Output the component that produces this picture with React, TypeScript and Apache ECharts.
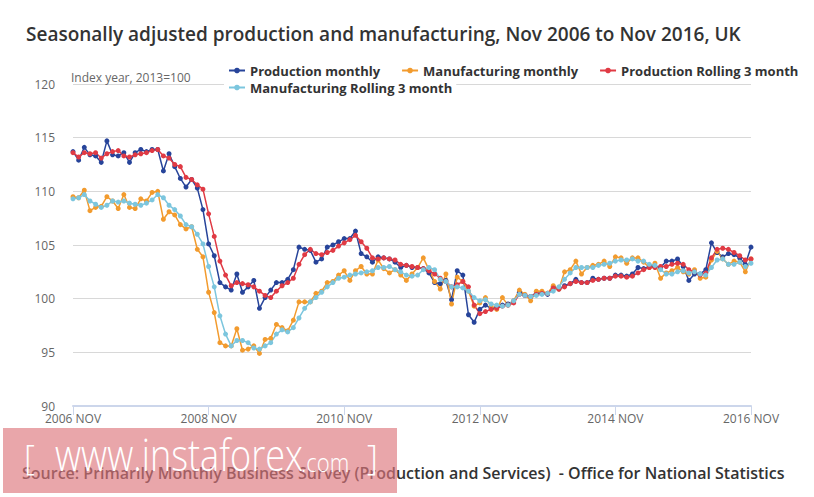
import React, { useEffect, useRef } from "react";
import * as echarts from "echarts";

const tickLabels = ["2006 NOV", "2008 NOV", "2010 NOV", "2012 NOV", "2014 NOV", "2016 NOV"];
const monthNames = ["JAN", "FEB", "MAR", "APR", "MAY", "JUN", "JUL", "AUG", "SEP", "OCT", "NOV", "DEC"];
const startYear = 2006;
const startMonthIndex = 10; // NOV
const monthCount = 121;

const productionMonthly = [
  113.7, 112.9, 114.1, 113.4, 113.3, 112.7, 114.7, 113.4, 113.3, 113.6, 112.7, 113.6,
  113.9, 113.7, 113.9, 113.9, 111.9, 113.5, 112.3, 111.2, 110.4, 111.1, 110.3, 108.3,
  105.1, 104.0, 101.5, 101.1, 100.8, 102.3, 100.6, 101.1, 101.7, 99.1, 100.1, 100.8,
  101.5, 101.5, 101.8, 102.7, 104.8, 104.6, 104.5, 103.4, 103.7, 104.8, 105.0, 105.3,
  105.6, 105.6, 106.3, 104.2, 103.9, 103.4, 103.9, 103.8, 103.7, 103.4, 102.9, 103.1,
  102.9, 102.9, 102.8, 102.4, 101.5, 101.4, 101.7, 99.9, 102.6, 102.2, 98.5, 97.8,
  99.0, 99.4, 99.1, 99.2, 99.4, 99.5, 99.8, 100.6, 100.3, 100.2, 100.5, 100.5,
  100.4, 101.1, 100.9, 101.2, 101.4, 101.8, 101.5, 101.5, 101.9, 101.8, 101.9, 101.9,
  102.2, 102.2, 102.1, 102.3, 102.9, 102.8, 103.0, 103.0, 102.9, 103.5, 103.5, 103.7,
  103.0, 101.7, 102.3, 102.3, 102.7, 105.2, 104.3, 103.9, 104.2, 104.1, 103.8, 103.2,
  104.8,
];

const manufacturingMonthly = [
  109.5, 109.4, 110.1, 108.2, 108.5, 108.6, 109.5, 109.1, 108.4, 109.7, 108.5, 108.4,
  109.3, 109.1, 109.9, 110.0, 107.4, 108.1, 107.8, 106.9, 106.5, 106.7, 104.6, 103.9,
  100.6, 98.7, 95.9, 95.6, 95.6, 97.2, 95.2, 95.3, 95.6, 94.9, 96.2, 96.3,
  97.6, 97.3, 97.0, 98.0, 99.7, 99.7, 99.7, 100.5, 100.7, 101.5, 101.6, 102.2,
  102.6, 101.7, 102.6, 103.0, 102.3, 102.3, 103.6, 102.8, 102.4, 102.7, 102.2, 101.7,
  102.3, 102.9, 103.8, 102.7, 101.6, 100.9, 102.3, 99.5, 102.0, 101.6, 100.7, 99.3,
  99.6, 100.1, 99.3, 99.0, 100.1, 99.4, 99.8, 100.8, 100.4, 99.8, 100.7, 100.7,
  100.5, 101.2, 100.9, 102.5, 102.7, 103.5, 102.3, 102.9, 103.1, 103.2, 103.5, 103.0,
  103.9, 103.8, 103.3, 103.8, 103.8, 103.4, 102.9, 103.3, 101.9, 102.4, 102.6, 102.9,
  102.5, 102.3, 102.7, 101.9, 102.0, 103.6, 104.4, 103.7, 103.2, 103.5, 103.4, 102.5,
  103.7,
];

const productionRolling = [
  113.6, 113.2, 113.6, 113.5, 113.6, 113.1, 113.5, 113.7, 113.8, 113.3, 113.2, 113.4,
  113.5, 113.6, 113.8, 113.9, 113.3, 113.1, 112.5, 112.3, 111.3, 111.1, 110.6, 110.2,
  107.9, 105.8, 103.5, 102.2, 101.2, 101.5, 101.4, 101.3, 101.1, 100.7, 100.3, 100.1,
  100.7, 101.2, 101.5, 101.9, 103.2, 104.1, 104.6, 104.2, 104.1, 104.3, 104.5, 104.9,
  105.2, 105.5, 105.9, 105.3, 104.7, 103.8, 103.7, 103.8, 103.7, 103.6, 103.2, 103.1,
  103.0, 102.9, 102.8, 102.6, 102.3, 101.9, 101.6, 101.1, 101.3, 101.6, 101.1, 99.4,
  98.6, 98.8, 99.0, 99.1, 99.3, 99.4, 99.6, 100.4, 100.3, 100.2, 100.4, 100.5,
  100.5, 101.0, 100.9, 101.1, 101.4, 101.6, 101.5, 101.5, 101.7, 101.8, 101.9, 101.9,
  102.1, 102.1, 102.0, 102.1, 102.4, 102.7, 102.9, 102.9, 103.0, 103.0, 103.2, 103.3,
  103.2, 102.7, 102.5, 102.2, 102.4, 103.8, 104.6, 104.7, 104.6, 104.3, 104.0, 103.6,
  103.7,
];

const manufacturingRolling = [
  109.3, 109.4, 109.7, 109.1, 108.8, 108.5, 108.7, 109.1, 109.0, 109.1, 108.9, 108.8,
  108.7, 108.9, 109.2, 109.7, 109.4, 108.7, 108.3, 107.7, 106.9, 106.7, 106.0, 105.1,
  103.0, 101.1, 98.4, 96.7, 95.6, 96.1, 96.1, 95.9, 95.4, 95.3, 95.6, 95.9,
  96.7, 97.1, 96.9, 97.3, 98.2, 99.1, 99.7, 100.1, 100.6, 101.1, 101.5, 101.9,
  102.0, 102.2, 102.3, 102.4, 102.5, 102.6, 102.9, 102.9, 103.0, 102.7, 102.5, 102.2,
  102.1, 102.2, 102.7, 102.9, 102.7, 101.8, 101.6, 101.1, 101.1, 101.0, 100.7, 100.1,
  99.8, 99.9, 99.5, 99.4, 99.3, 99.4, 99.8, 100.4, 100.3, 100.2, 100.3, 100.4,
  100.5, 100.7, 101.1, 101.8, 102.4, 102.9, 102.9, 102.9, 102.9, 103.1, 103.2, 103.3,
  103.5, 103.6, 103.6, 103.7, 103.5, 103.5, 103.2, 103.1, 102.7, 102.3, 102.3, 102.5,
  102.6, 102.4, 102.5, 102.3, 102.2, 102.9, 103.6, 103.7, 103.2, 103.2, 103.4, 103.0,
  103.3,
];

const seriesNames = [
  "Production monthly",
  "Manufacturing monthly",
  "Production Rolling 3 month",
  "Manufacturing Rolling 3 month",
];
const seriesColors = ["#27449a", "#f29b2e", "#e03a44", "#7cc6de"];

const categories: string[] = [];
for (let i = 0; i < monthCount; i++) {
  const m = (startMonthIndex + i) % 12;
  const y = startYear + Math.floor((startMonthIndex + i) / 12);
  categories.push(`${y} ${monthNames[m]}`);
}

const FONT = "'Open Sans', sans-serif";

export default function App() {
  const ref = useRef<HTMLDivElement>(null);

  useEffect(() => {
    if (!ref.current) return;
    const chart = echarts.init(ref.current, undefined, { renderer: "svg" });
    const dataSets = [productionMonthly, manufacturingMonthly, productionRolling, manufacturingRolling];

    const option: any = {
      animation: false,
      backgroundColor: "#ffffff",
      textStyle: { fontFamily: FONT },
      title: {
        text: "Seasonally adjusted production and manufacturing, Nov 2006 to Nov 2016, UK",
        left: 21,
        top: 19,
        textStyle: { fontFamily: FONT, fontSize: 19, fontWeight: 600, color: "#333333" },
      },
      legend: [
        {
          data: seriesNames.slice(0, 3),
          left: 224,
          top: 64,
          itemGap: 21,
          itemWidth: 16,
          itemHeight: 7,
          backgroundColor: "#ffffff",
          padding: [0, 4, 0, 4],
          textStyle: { fontFamily: FONT, fontSize: 13, fontWeight: "bold", color: "#333333" },
        },
        {
          data: seriesNames.slice(3),
          left: 224,
          top: 81,
          itemWidth: 16,
          itemHeight: 7,
          backgroundColor: "#ffffff",
          padding: [0, 4, 0, 4],
          textStyle: { fontFamily: FONT, fontSize: 13, fontWeight: "bold", color: "#333333" },
        },
      ],
      grid: { left: 73, right: 63, top: 84, bottom: 91, containLabel: false },
      xAxis: {
        type: "category",
        data: categories,
        boundaryGap: false,
        axisLine: { lineStyle: { color: "#ccd6eb", width: 2 } },
        axisTick: {
          show: true,
          length: 9,
          interval: (index: number) => index % 24 === 0,
          lineStyle: { color: "#ccd6eb", width: 1 },
        },
        axisLabel: {
          interval: (index: number) => index % 24 === 0,
          formatter: (v: string) => (tickLabels.includes(v) ? v : ""),
          color: "#666666",
          fontSize: 12,
          fontFamily: FONT,
          margin: 6,
        },
        splitLine: { show: false },
      },
      yAxis: {
        type: "value",
        min: 90,
        max: 120,
        interval: 5,
        axisLine: { show: false },
        axisTick: { show: false },
        axisLabel: { color: "#666666", fontSize: 12, fontFamily: FONT, margin: 18 },
        splitLine: { lineStyle: { color: "#d8d8d8", width: 1 } },
      },
      series: seriesNames.map((name, i) => ({
        name,
        type: "line",
        data: dataSets[i],
        color: seriesColors[i],
        symbol: "circle",
        symbolSize: 5,
        showSymbol: true,
        showAllSymbol: true,
        lineStyle: { width: 1.5, color: seriesColors[i] },
        itemStyle: { color: seriesColors[i] },
      })),
      graphic: [
        {
          type: "text",
          left: 71,
          top: 71,
          z: 10,
          style: { text: "Index year, 2013=100", fontFamily: FONT, fontSize: 12, fill: "#666666" },
        },
        {
          type: "text",
          left: 22,
          top: 465,
          z: 10,
          style: {
            text: "Source: Primarily Monthly Business Survey (Production and Services)  - Office for National Statistics",
            fontFamily: FONT,
            fontSize: 16,
            fontWeight: 600,
            fill: "#333333",
          },
        },
        {
          type: "rect",
          z: 20,
          shape: { x: 3, y: 428, width: 394, height: 65 },
          style: { fill: "rgba(221,118,124,0.65)" },
        },
        {
          type: "text",
          z: 21,
          x: 24,
          y: 440,
          style: { text: "[", fontFamily: FONT, fontSize: 34, fontWeight: 300, fill: "#ffffff" },
        },
        {
          type: "text",
          z: 21,
          x: 55,
          y: 432,
          scaleX: 0.82,
          style: { text: "www.instaforex", fontFamily: FONT, fontSize: 44, fontWeight: 300, fill: "#ffffff" },
        },
        {
          type: "text",
          z: 21,
          x: 301,
          y: 449,
          scaleX: 0.85,
          style: { text: ".com", fontFamily: FONT, fontSize: 26, fontWeight: 300, fill: "#ffffff" },
        },
        {
          type: "text",
          z: 21,
          x: 367,
          y: 440,
          style: { text: "]", fontFamily: FONT, fontSize: 34, fontWeight: 300, fill: "#ffffff" },
        },
      ],
    };

    chart.setOption(option);
    return () => chart.dispose();
  }, []);

  return (
    <div
      ref={ref}
      style={{ position: "fixed", left: 0, top: 0, width: 814, height: 497, background: "#fff" }}
    />
  );
}
